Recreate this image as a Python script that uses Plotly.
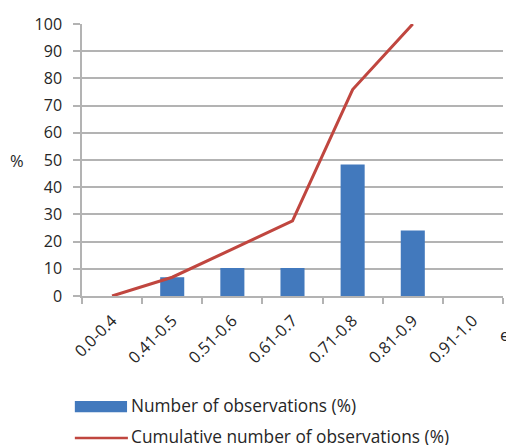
import plotly.graph_objects as go

# Efficiency classes and observation shares
categories = ["0.0-0.4", "0.41-0.5", "0.51-0.6", "0.61-0.7", "0.71-0.8", "0.81-0.9", "0.91-1.0"]
observations_pct = [0, 6.9, 10.3, 10.3, 48.3, 24.1, 0]
cumulative_pct = [0, 6.9, 17.2, 27.6, 75.9, 100, None]
y_ticks = [0, 10, 20, 30, 40, 50, 60, 70, 80, 90, 100]

BAR_COLOR = "#4279bd"
LINE_COLOR = "#c0463f"
TEXT_COLOR = "#262626"
GRID_COLOR = "#b3b3b3"
FONT = "Open Sans"

fig = go.Figure()
fig.add_trace(go.Bar(
    x=categories, y=observations_pct, name="Number of observations (%)",
    marker=dict(color=BAR_COLOR, line=dict(width=0)), width=0.4,
))
fig.add_trace(go.Scatter(
    x=categories, y=cumulative_pct, name="Cumulative number of observations (%)",
    mode="lines", line=dict(color=LINE_COLOR, width=3), cliponaxis=False,
))

fig.update_layout(
    width=506, height=445,
    margin=dict(l=82, r=3, t=24, b=149),
    paper_bgcolor="white", plot_bgcolor="white",
    font=dict(family=FONT, color=TEXT_COLOR, size=16),
    showlegend=False,
    bargap=0.6,
)
fig.update_xaxes(
    type="category", tickangle=-45, tickfont=dict(size=16.3),
    showline=True, linecolor=GRID_COLOR, linewidth=1.5,
    ticks="outside", ticklen=6, tickcolor=GRID_COLOR, tickwidth=1.5,
    tickson="boundaries", showgrid=False, ticklabelstandoff=7,
)
fig.update_yaxes(
    range=[0, 100], tickvals=y_ticks, tickfont=dict(size=16),
    showline=True, linecolor=GRID_COLOR, linewidth=1.5,
    ticks="outside", ticklen=7, tickcolor=GRID_COLOR, tickwidth=1.5,
    showgrid=True, gridcolor=GRID_COLOR, gridwidth=1.5, zeroline=False,
    ticklabelstandoff=8,
)

# Axis titles
fig.add_annotation(text="%", xref="paper", yref="paper", x=-0.155, y=0.5,
                   xanchor="center", yanchor="middle", showarrow=False,
                   font=dict(size=16.5))
fig.add_annotation(text="e", xref="paper", yref="paper", x=0.988, y=-0.143,
                   xanchor="left", yanchor="middle", showarrow=False,
                   font=dict(size=17))

# Legend below the plot
fig.add_shape(type="rect", xref="paper", yref="paper",
              x0=-0.017, x1=0.107, y0=-0.386, y1=-0.427,
              fillcolor=BAR_COLOR, line=dict(width=0))
fig.add_annotation(text="Number of observations (%)", xref="paper", yref="paper",
                   x=0.112, y=-0.404, xanchor="left", yanchor="middle",
                   showarrow=False, font=dict(size=17.3))
fig.add_shape(type="line", xref="paper", yref="paper",
              x0=-0.017, x1=0.109, y0=-0.522, y1=-0.522,
              line=dict(color=LINE_COLOR, width=2.5))
fig.add_annotation(text="Cumulative number of observations (%)", xref="paper", yref="paper",
                   x=0.112, y=-0.518, xanchor="left", yanchor="middle",
                   showarrow=False, font=dict(size=17.3))

fig.write_html("out.html")
